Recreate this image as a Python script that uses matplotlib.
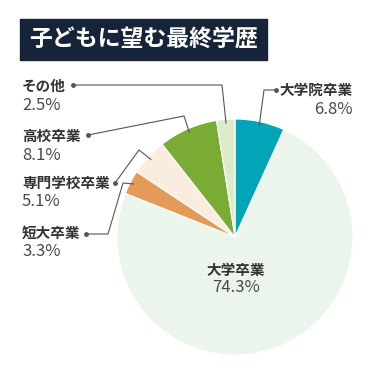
import matplotlib.pyplot as plt
import numpy as np
from matplotlib.patches import Rectangle

plt.rcParams['font.family'] = ['Noto Sans CJK JP', 'DejaVu Sans']

TITLE = '子どもに望む最終学歴'
labels = ['大学院卒業', '大学卒業', '短大卒業', '専門学校卒業', '高校卒業', 'その他']
shares = [6.8, 74.3, 3.3, 5.1, 8.1, 2.5]
colors = ['#00A5B8', '#EBF5EC', '#E49A58', '#F8EDDF', '#79AB35', '#DCEBC8']

W = H = 375
CX, CY, R = 235, 237, 118
NAME_COLOR = '#333333'
PCT_COLOR = '#4a4a4a'
LINE_COLOR = '#555555'

# label layout in pixel coords (y from top): text x, name y, align, dot, elbow
layout = {
    '大学院卒業': (353, 90, 'right', (276, 90), (264, 90)),
    '短大卒業': (22, 233, 'left', (86, 234), [(108, 234), (123, 183)]),
    '専門学校卒業': (22, 183, 'left', (115, 183), [(139, 150)]),
    '高校卒業': (22, 136, 'left', (88, 135), [(184, 116)]),
    'その他': (22, 86, 'left', (73, 85), [(222, 85)]),
}


def py(y):
    return H - y


fig = plt.figure(figsize=(3.75, 3.75), dpi=100)
ax = fig.add_axes([0, 0, 1, 1])

wedges, _ = ax.pie(shares, colors=colors, startangle=90, counterclock=False,
                   center=(CX, py(CY)), radius=R, frame=True,
                   wedgeprops=dict(edgecolor='white', linewidth=0.8))
ax.set_xlim(0, W)
ax.set_ylim(0, H)
ax.set_aspect('equal')
ax.axis('off')

# title box
ax.add_patch(Rectangle((20, py(60)), 247, 41, color='#16243A', zorder=5))
ax.text(143.5, py(40), TITLE, color='white', fontsize=16.5, fontweight='bold',
        ha='center', va='center', zorder=6)

for w, name, val in zip(wedges, labels, shares):
    if name not in layout:
        # big slice: label inside
        ax.text(CX + 1, py(270), name, color=NAME_COLOR, fontsize=10.5,
                fontweight='bold', ha='center', va='center')
        ax.text(CX + 1, py(288), f'{val}%', color=PCT_COLOR, fontsize=12,
                ha='center', va='center')
        continue
    tx, ty, ha, dot, elbows = layout[name]
    if isinstance(elbows, tuple):
        elbows = [elbows]
    mid = np.deg2rad((w.theta1 + w.theta2) / 2)
    ex = CX + R * 0.97 * np.cos(mid)
    ey = py(CY) + R * 0.97 * np.sin(mid)
    xs = [dot[0]] + [p[0] for p in elbows] + [ex]
    ys = [py(dot[1])] + [py(p[1]) for p in elbows] + [ey]
    ax.plot(xs, ys, color=LINE_COLOR, lw=0.8, zorder=3)
    ax.plot(dot[0], py(dot[1]), 'o', color=LINE_COLOR, ms=2.5, zorder=3)
    ax.text(tx, py(ty), name, color=NAME_COLOR, fontsize=10.5,
            fontweight='bold', ha=ha, va='center')
    ax.text(tx, py(ty + 19), f'{val}%', color=PCT_COLOR, fontsize=12,
            ha=ha, va='center')

fig.savefig('out.png', dpi=100, facecolor='white')
